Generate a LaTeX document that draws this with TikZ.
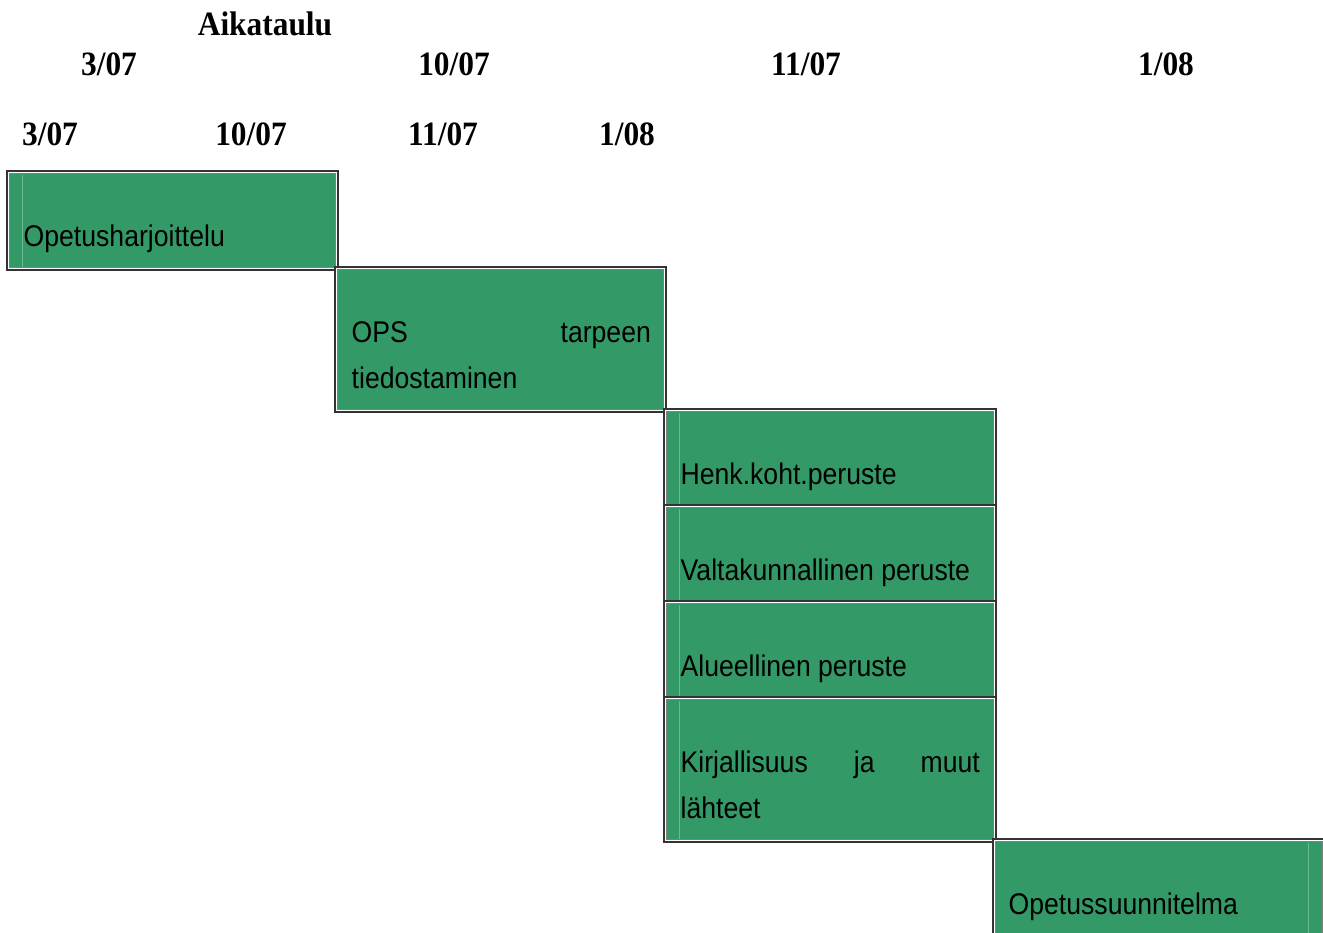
\documentclass[tikz,border=0pt]{standalone}
\usepackage{fontspec}
\newfontfamily\datefont[FakeStretch=0.92]{Liberation Serif}
\newfontfamily\boxfont[FakeStretch=0.89]{Liberation Sans}
\definecolor{boxgreen}{RGB}{51,153,102}
\definecolor{streak}{RGB}{110,185,145}
\tikzset{
  outerframe/.style={draw=black!80, line width=0.011cm, fill=white},
  innerframe/.style={draw=black!50, line width=0.011cm, fill=boxgreen},
  tasktext/.style={anchor=base west, inner sep=0pt, font=\boxfont\fontsize{8.5}{10}\selectfont},
  datetext/.style={anchor=base, inner sep=0pt, font=\datefont\bfseries\fontsize{9.7}{11}\selectfont}
}
% one task bar: x1, y1, x2, y2 (pixels)
\newcommand{\taskbar}[4]{%
  \draw [outerframe] (#1,#2) rectangle (#3,#4);
  \draw [innerframe] (#1+2.5,#2+2.5) rectangle (#3-2.5,#4-2.5);
}
\def\xa{7}
\def\xb{336}
\def\xc{665}
\def\xd{994}
\def\xe{1325}
\begin{document}
\begin{tikzpicture}[x=0.01cm,y=-0.01cm]
        \useasboundingbox [fill=white] (0,0) rectangle (1323,933);
        % headings
        \node [datetext] (title) at (265,35) {Aikataulu};
        \node [datetext] (ta) at (109,75) {3/07};
        \node [datetext] (tb) at (454,75) {10/07};
        \node [datetext] (tc) at (806,75) {11/07};
        \node [datetext] (td) at (1166,75) {1/08};
        \node [datetext] (sa) at (50,145) {3/07};
        \node [datetext] (sb) at (251,145) {10/07};
        \node [datetext] (sc) at (443,145) {11/07};
        \node [datetext] (sd) at (627,145) {1/08};
        % bars
        \taskbar{\xa}{171}{\xb+2}{270}
        \draw [streak, line width=0.01cm] (22,175) -- (22,267);
        \taskbar{\xb-1}{267}{\xc+1}{412}
        \taskbar{\xc-1}{409}{\xd+2}{507}
        \draw [streak, line width=0.01cm] (679,413) -- (679,504);
        \taskbar{\xc-1}{505}{\xd+2}{603}
        \draw [streak, line width=0.01cm] (679,509) -- (679,600);
        \taskbar{\xc-1}{601}{\xd+2}{699}
        \draw [streak, line width=0.01cm] (679,605) -- (679,696);
        \taskbar{\xc-1}{697}{\xd+2}{842}
        \draw [streak, line width=0.01cm] (679,701) -- (679,839);
        \taskbar{\xd-1}{839}{\xe}{940}
        \draw [streak, line width=0.01cm] (1308,843) -- (1308,933);
        % texts
        \node [tasktext] (t1) at (23,246) {Opetusharjoittelu};
        \node [tasktext, text width=2.99cm] (t2) at (351,342) {OPS\hfill tarpeen};
        \node [tasktext] (t2b) at (351,388) {tiedostaminen};
        \node [tasktext] (t3) at (680,484) {Henk.koht.peruste};
        \node [tasktext] (t4) at (680,580) {Valtakunnallinen peruste};
        \node [tasktext] (t5) at (680,676) {Alueellinen peruste};
        \node [tasktext, text width=2.99cm] (t6) at (680,772) {Kirjallisuus\hfill ja\hfill muut};
        \node [tasktext] (t6b) at (680,818) {lähteet};
        \node [tasktext] (t7) at (1008,914) {Opetussuunnitelma};
    \end{tikzpicture}
\end{document}
